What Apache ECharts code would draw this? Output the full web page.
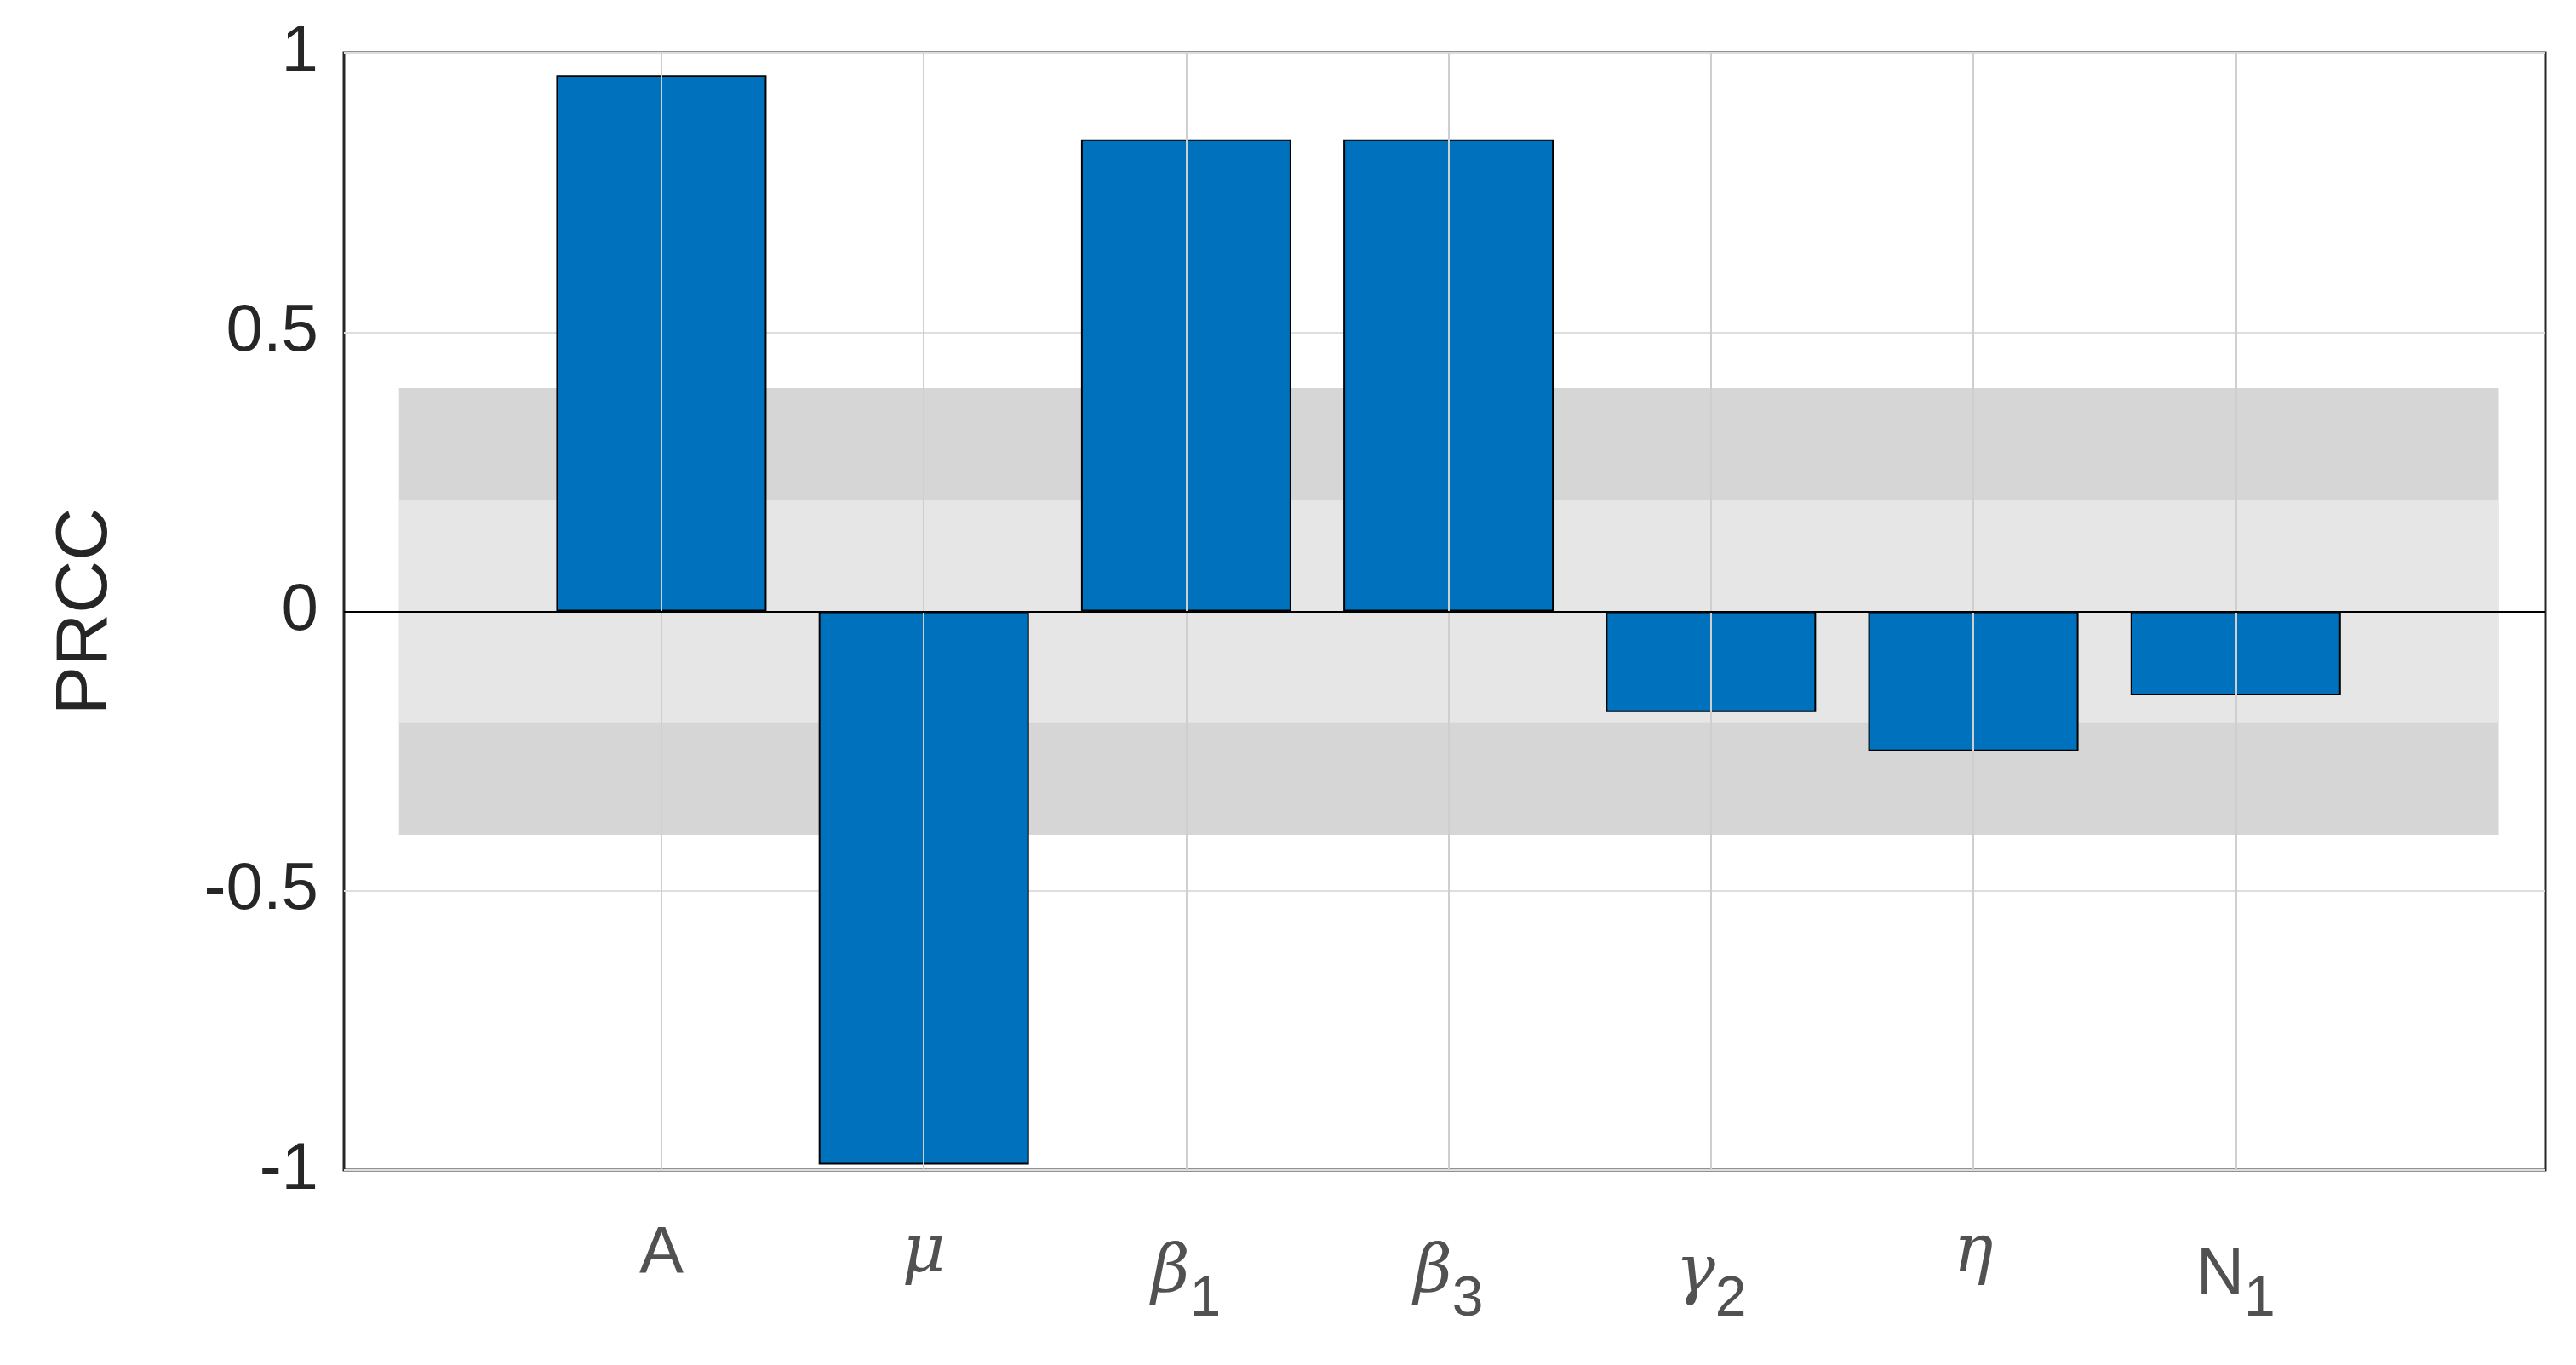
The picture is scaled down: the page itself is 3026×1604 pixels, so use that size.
<!DOCTYPE html>
<html><head><meta charset="utf-8">
<script src="https://cdn.jsdelivr.net/npm/echarts@6/dist/echarts.min.js"></script>
<style>html,body{margin:0;background:#fff}#c{width:3026px;height:1604px}</style>
</head><body><div id="c"></div>
<script>
const categories = ['{n|A}', '{i|μ}', '{i|β}{s|1}', '{i|β}{s|3}', '{i|γ}{s|2}', '{i|η}', '{n|N}{s|1}']
const prcc = [0.96, -0.99, 0.845, 0.845, -0.18, -0.25, -0.15]
const yTicks = [-1, -0.5, 0, 0.5, 1]

const chart = echarts.init(document.getElementById('c'))
const font = 'Liberation Sans, Arial, sans-serif'
const pts = prcc.map((v, i) => [i + 1, v])
chart.setOption({
  animation: false,
  grid: { left: 404, right: 36, top: 62, bottom: 229, show: true, borderColor: '#262626', borderWidth: 3, backgroundColor: '#fff' },
  xAxis: {
    type: 'value', min: -0.21, max: 8.18,
    axisLine: { show: false }, splitLine: { show: false }, axisTick: { show: false }, axisLabel: { show: false }
  },
  yAxis: {
    type: 'value', min: -1, max: 1, interval: 0.5,
    name: 'PRCC', nameLocation: 'middle', nameGap: 260, nameRotate: 90,
    nameTextStyle: { fontFamily: font, fontSize: 86, color: '#262626' },
    axisLine: { show: false }, axisTick: { show: false },
    splitLine: { lineStyle: { color: '#dedede', width: 2 } },
    axisLabel: { fontFamily: font, fontSize: 78, color: '#262626', margin: 30,
      formatter: v => yTicks.includes(v) ? String(v) : '' }
  },
  series: [
    {
      type: 'line', data: [], silent: true, z: 1,
      markArea: { silent: true, data: [
        [{ coord: [0, -0.4], itemStyle: { color: '#d6d6d6' } }, { coord: [8, 0.4] }],
        [{ coord: [0, -0.2], itemStyle: { color: '#e6e6e6' } }, { coord: [8, 0.2] }]
      ] },
      markLine: { silent: true, symbol: 'none', label: { show: false },
        lineStyle: { color: '#cfcfcf', width: 2, type: 'solid' },
        data: [1, 2, 3, 4, 5, 6, 7].map(x => ({ xAxis: x })) }
    },
    {
      type: 'bar', data: pts, barWidth: 247, z: 3,
      itemStyle: { color: '#0072BD', borderColor: '#000', borderWidth: 2 },
      markLine: { silent: true, symbol: 'none', label: { show: false },
        lineStyle: { color: '#000', width: 2, type: 'solid' }, data: [{ yAxis: 0 }] }
    },
    {
      type: 'scatter', symbolSize: 0, silent: true,
      data: categories.map((c, i) => ({ value: [i + 1, -1], label: { show: true, formatter: c } })),
      label: { position: 'bottom', distance: 60, color: '#262626',
        rich: {
          n: { fontFamily: font, fontSize: 78, color: '#262626' },
          i: { fontFamily: 'DejaVu Serif, serif', fontStyle: 'italic', fontSize: 78, color: '#262626' },
          s: { fontFamily: font, fontSize: 66, color: '#262626', padding: [60, 0, 0, 0] }
        } }
    }
  ]
})
</script></body></html>
